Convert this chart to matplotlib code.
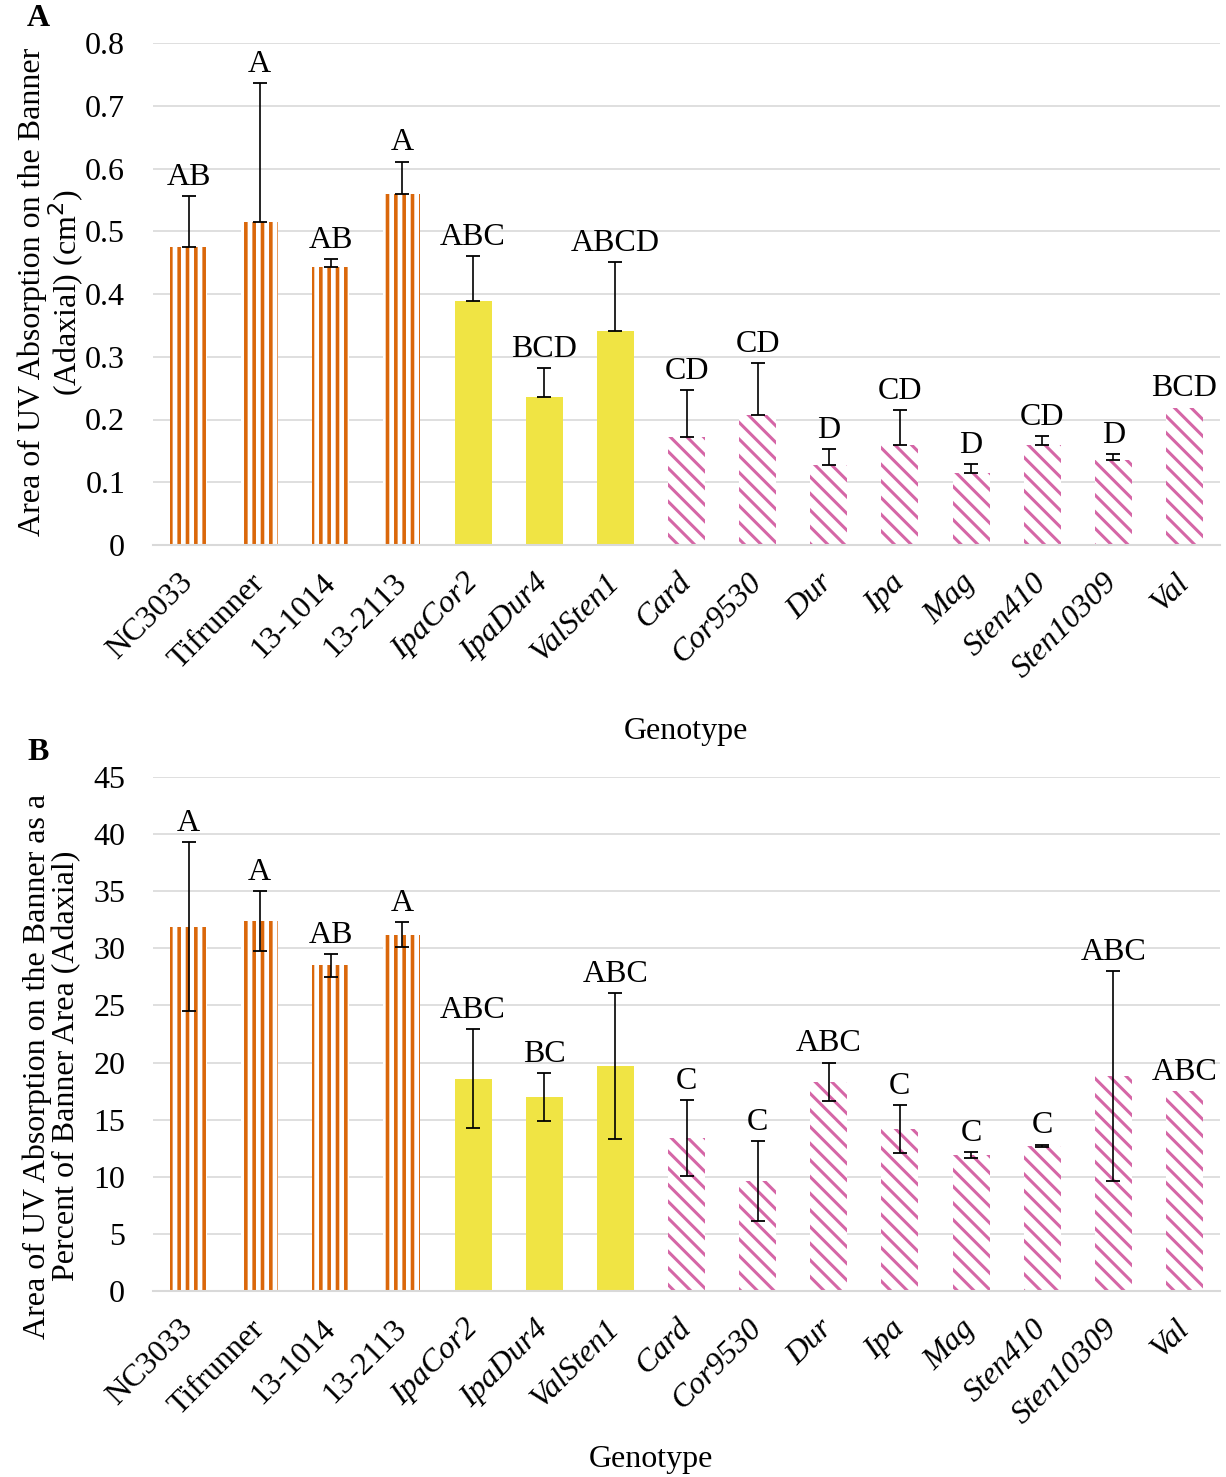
import numpy as np
import matplotlib
matplotlib.use("Agg")
import matplotlib.pyplot as plt
from matplotlib.ticker import FormatStrFormatter, MultipleLocator

plt.rcParams['font.family'] = ['Liberation Serif', 'DejaVu Serif']

# data
genotypes = ["NC3033", "Tifrunner", "13-1014", "13-2113", "IpaCor2", "IpaDur4",
             "ValSten1", "Card", "Cor9530", "Dur", "Ipa", "Mag", "Sten410",
             "Sten10309", "Val"]
groups = ["cult"] * 4 + ["amph"] * 3 + ["wild"] * 8
italic = [False] * 4 + [True] * 11

area_mean = [0.475, 0.514, 0.443, 0.559, 0.389, 0.236, 0.341, 0.172, 0.207,
             0.127, 0.159, 0.115, 0.159, 0.135, 0.219]
area_err = [0.081, 0.222, 0.012, 0.052, 0.072, 0.046, 0.110, 0.075, 0.083,
            0.026, 0.056, 0.014, 0.015, 0.010, np.nan]
area_letters = ["AB", "A", "AB", "A", "ABC", "BCD", "ABCD", "CD", "CD", "D",
                "CD", "D", "CD", "D", "BCD"]

pct_mean = [31.9, 32.4, 28.5, 31.2, 18.6, 17.0, 19.7, 13.4, 9.6, 18.3, 14.2,
            11.9, 12.7, 18.8, 17.5]
pct_err = [7.4, 2.6, 1.0, 1.1, 4.3, 2.1, 6.4, 3.3, 3.5, 1.7, 2.1, 0.25, 0.12,
           9.2, np.nan]
pct_letters = ["A", "A", "AB", "A", "ABC", "BC", "ABC", "C", "C", "ABC", "C",
               "C", "C", "ABC", "ABC"]

colors = {"cult": "#DA670A", "amph": "#F0E444", "wild": "#D566A6"}
FS = 23

fig = plt.figure(figsize=(12.26, 14.77), dpi=100)


def panel(ax, means, errs, letters, ymax, step, fmt, both):
    x = np.arange(len(genotypes))
    means = np.array(means)
    errs = np.array(errs)
    for g in ["cult", "amph", "wild"]:
        idx = [i for i, gg in enumerate(groups) if gg == g]
        if g == "cult":
            bars = ax.bar(x[idx], means[idx], width=0.52, facecolor="white",
                          edgecolor=colors[g], linewidth=0, hatch="||", zorder=2)
            lw = 2.6
        elif g == "amph":
            bars = ax.bar(x[idx], means[idx], width=0.52, color=colors[g],
                          linewidth=0, zorder=2)
            lw = None
        else:
            bars = ax.bar(x[idx], means[idx], width=0.52, facecolor="white",
                          edgecolor=colors[g], linewidth=0, hatch="\\\\", zorder=2)
            lw = 2.2
        if lw is not None:
            for b in bars:
                if hasattr(b, "set_hatch_linewidth"):
                    b.set_hatch_linewidth(lw)
    ok = ~np.isnan(errs)
    if both:
        yerr = errs[ok]
    else:
        yerr = [np.zeros(ok.sum()), errs[ok]]
    ax.errorbar(x[ok], means[ok], yerr=yerr, fmt="none", ecolor="black",
                elinewidth=1.2, capsize=5, capthick=1.3, zorder=3)
    tops = np.where(ok, means + np.nan_to_num(errs), means)
    for xi, t, lab in zip(x, tops, letters):
        ax.annotate(lab, (xi, t), xytext=(0, 3), textcoords="offset points",
                    ha="center", va="bottom", fontsize=FS)

    ax.set_xlim(-0.5, len(genotypes) - 0.5)
    ax.set_ylim(0, ymax)
    ax.yaxis.set_major_locator(MultipleLocator(step))
    ax.yaxis.set_major_formatter(FormatStrFormatter(fmt))
    ax.grid(axis="y", color="#D9D9D9", linewidth=1.2, zorder=0)
    ax.set_axisbelow(True)
    for s in ["top", "right", "left"]:
        ax.spines[s].set_visible(False)
    ax.spines["bottom"].set_color("#D9D9D9")
    ax.spines["bottom"].set_linewidth(1.5)
    ax.tick_params(axis="both", length=0, labelsize=FS)
    ax.tick_params(axis="y", pad=20)
    ax.tick_params(axis="x", pad=24)
    ax.set_xticks(x)
    ax.set_xticklabels(genotypes, rotation=45, ha="right", va="center",
                       rotation_mode="anchor")
    for lab, it in zip(ax.get_xticklabels(), italic):
        if it:
            lab.set_fontstyle("italic")


W, H = 1226, 1477
axA = fig.add_axes([153 / W, 1 - 545 / H, (1220 - 153) / W, (545 - 43) / H])
panel(axA, area_mean, area_err, area_letters, 0.8, 0.1, "%g", False)

axB = fig.add_axes([153 / W, 1 - 1291 / H, (1220 - 153) / W, (1291 - 777) / H])
panel(axB, pct_mean, pct_err, pct_letters, 45, 5, "%g", True)

fig.text(52 / W, 1 - 292 / H,
         "Area of UV Absorption on the Banner\n(Adaxial) (cm$^2$)",
         rotation=90, ha="center", va="center", fontsize=FS, linespacing=1.0)
fig.text(52 / W, 1 - 1066 / H,
         "Area of UV Absorption on the Banner as a\nPercent of Banner Area (Adaxial)",
         rotation=90, ha="center", va="center", fontsize=FS, linespacing=1.0)
fig.text(686 / W, 1 - 731 / H, "Genotype", ha="center", va="center", fontsize=FS)
fig.text(651 / W, 1 - 1460 / H, "Genotype", ha="center", va="center", fontsize=FS)
fig.text(38 / W, 1 - 18 / H, "A", ha="center", va="center", fontsize=FS,
         fontweight="bold")
fig.text(38 / W, 1 - 752 / H, "B", ha="center", va="center", fontsize=FS,
         fontweight="bold")

fig.savefig("out.png", dpi=100, facecolor="white")
